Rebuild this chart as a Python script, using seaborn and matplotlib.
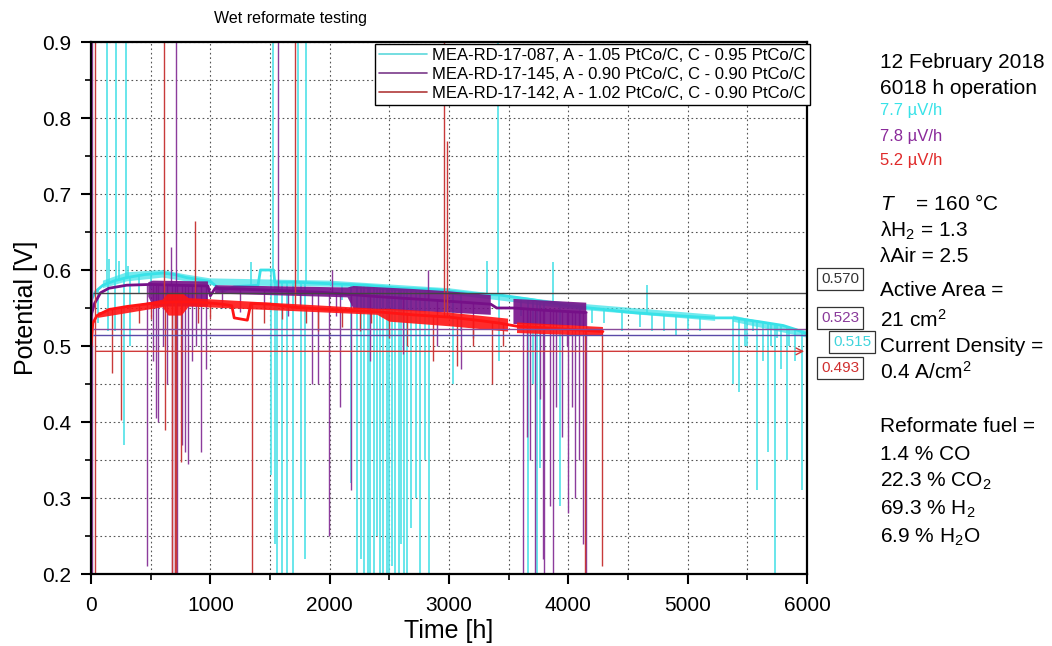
import numpy as np
import pandas as pd
import matplotlib
matplotlib.use("Agg")
import matplotlib.pyplot as plt
from matplotlib.lines import Line2D
import seaborn as sns

# ---------------- data ----------------
names = ["MEA-RD-17-087, A - 1.05 PtCo/C, C - 0.95 PtCo/C",
         "MEA-RD-17-145, A - 0.90 PtCo/C, C - 0.90 PtCo/C",
         "MEA-RD-17-142, A - 1.02 PtCo/C, C - 0.90 PtCo/C"]

# baseline of each cell voltage (h, V)
cyan_t = [0, 40, 100, 200, 300, 450, 600, 700, 800, 1000, 1100, 1200, 1400, 1420, 1530, 1540,
          1700, 2000, 2300, 2600, 2900, 3200, 3430, 3700, 4000, 4300, 4540, 4800, 5100, 5230,
          5380, 5600, 5800, 5900, 6000]
cyan_v = [0.560, 0.572, 0.580, 0.586, 0.590, 0.594, 0.596, 0.594, 0.590, 0.585, 0.572, 0.578,
          0.580, 0.600, 0.600, 0.584, 0.584, 0.582, 0.580, 0.576, 0.574, 0.569, 0.567, 0.561,
          0.553, 0.548, 0.544, 0.541, 0.538, 0.537, 0.537, 0.532, 0.527, 0.522, 0.516]

purple_t = [0, 30, 80, 150, 300, 500, 700, 980, 1000, 1040, 1400, 1900, 2400, 2900, 3350,
            3400, 3540, 3800, 4150]
purple_v = [0.540, 0.556, 0.570, 0.576, 0.580, 0.581, 0.580, 0.579, 0.566, 0.576, 0.574,
            0.571, 0.565, 0.560, 0.555, 0.550, 0.550, 0.547, 0.544]

red_t = [0, 15, 50, 150, 300, 500, 700, 900, 1100, 1180, 1200, 1310, 1340, 1500, 1700, 2000,
         2400, 2700, 3000, 3230, 3430, 3495, 3570, 3900, 4290]
red_v = [0.500, 0.530, 0.540, 0.548, 0.552, 0.556, 0.558, 0.558, 0.555, 0.553, 0.537, 0.534,
         0.556, 0.555, 0.551, 0.548, 0.545, 0.541, 0.538, 0.534, 0.530, 0.528, 0.526, 0.523,
         0.519]

# noisy envelope (fuzzy bands), NaN = no band
cyan_band_t = [100, 300, 600, 800, 1000, 2000, 3000, 4000, 5230, np.nan, 5380, 6000]
cyan_band_lo = [0.576, 0.585, 0.590, 0.585, 0.580, 0.578, 0.568, 0.549, 0.533, np.nan, 0.532, 0.511]
cyan_band_hi = [0.586, 0.597, 0.600, 0.594, 0.589, 0.586, 0.576, 0.557, 0.541, np.nan, 0.540, 0.520]

purple_band_t = [480, 520, 980, np.nan, 1040, 2150, 2200, 2700, 3000, 3350, np.nan, 3540, 4150]
purple_band_lo = [0.565, 0.552, 0.552, np.nan, 0.569, 0.564, 0.549, 0.546, 0.544, 0.541, np.nan,
                  0.529, 0.526]
purple_band_hi = [0.584, 0.586, 0.585, np.nan, 0.580, 0.577, 0.579, 0.575, 0.572, 0.567, np.nan,
                  0.562, 0.557]

red_band_t = [60, 600, 650, 760, 820, 2400, 2500, 3000, 3495, np.nan, 3570, 4290]
red_band_lo = [0.537, 0.551, 0.540, 0.540, 0.552, 0.541, 0.532, 0.526, 0.519, np.nan, 0.517, 0.513]
red_band_hi = [0.544, 0.561, 0.570, 0.570, 0.563, 0.549, 0.549, 0.544, 0.536, np.nan, 0.531, 0.525]

# spikes: time (h) and tip voltage (V)
cyan_spike_t = [134, 210, 293, 1525, 1735, 1800, 3410, 150, 235, 310, 1340, 3320, 3870, 4660,
                60, 140, 200, 277, 330, 400, 500, 1510, 1540, 1560, 1600, 1640, 1690, 1760,
                1790, 2100, 2180, 2230, 2260, 2290, 2320, 2340, 2370, 2400, 2420, 2450, 2480,
                2500, 2520, 2550, 2580, 2600, 2620, 2650, 2680, 2720, 2760, 2800, 2830, 3035,
                3100, 3420, 3600, 3660, 3700, 3740, 3765, 3800, 3930, 4100, 4200, 4300, 4450,
                4600, 4700, 4800, 4900, 5000, 5100, 5380, 5430, 5480, 5500, 5550, 5580, 5630,
                5670, 5700, 5735, 5750, 5780, 5830, 5850, 5900, 5960]
cyan_spike_v = [0.95, 0.95, 0.95, 0.95, 0.95, 0.95, 0.95, 0.615, 0.612, 0.605, 0.61, 0.612,
                0.61, 0.58,
                0.53, 0.52, 0.52, 0.37, 0.50, 0.57, 0.575, 0.33, 0.24, 0.20, 0.20, 0.20, 0.20,
                0.30, 0.22, 0.56, 0.32, 0.20, 0.22, 0.20, 0.20, 0.20, 0.20, 0.25, 0.20, 0.20,
                0.20, 0.20, 0.21, 0.20, 0.20, 0.24, 0.20, 0.20, 0.26, 0.30, 0.20, 0.35, 0.20,
                0.45, 0.52, 0.48, 0.54, 0.20, 0.45, 0.20, 0.34, 0.53, 0.29, 0.52, 0.53, 0.53,
                0.52, 0.525, 0.52, 0.52, 0.515, 0.52, 0.52, 0.45, 0.44, 0.50, 0.50, 0.52, 0.31,
                0.48, 0.36, 0.50, 0.20, 0.51, 0.47, 0.35, 0.50, 0.48, 0.31]

purple_spike_t = [10, 672, 712, 1565, 2020, 2825,
                  10, 470, 520, 545, 560, 600, 640, 680, 700, 720, 763, 788, 813, 850, 880,
                  922, 960, 1100, 1250, 1450, 1650, 1750, 1852, 1900, 1995, 2050, 2087, 2180,
                  2340, 2615, 2900, 3100, 3200, 3620, 3650, 3680, 3720, 3760, 3790, 3800,
                  3850, 3870, 3900, 3950, 3990, 4000, 4030, 4060, 4090, 4120, 4150]
purple_spike_v = [0.95, 0.63, 0.95, 0.95, 0.60, 0.60,
                  0.20, 0.21, 0.48, 0.405, 0.40, 0.50, 0.45, 0.20, 0.20, 0.20, 0.37, 0.36,
                  0.345, 0.48, 0.50, 0.36, 0.47, 0.55, 0.545, 0.55, 0.54, 0.55, 0.45, 0.45,
                  0.25, 0.54, 0.42, 0.31, 0.48, 0.49, 0.50, 0.47, 0.51, 0.20, 0.38, 0.35,
                  0.20, 0.43, 0.22, 0.20, 0.29, 0.20, 0.42, 0.38, 0.50, 0.28, 0.42, 0.30,
                  0.35, 0.24, 0.20]

red_spike_t = [30, 612, 873, 1710, 2960, 2985,
               30, 175, 250, 400, 500, 620, 680, 700, 710, 755, 900, 1000, 1350, 1450, 1600,
               1800, 1900, 2100, 2250, 2350, 2500, 2650, 2870, 3065, 3200, 3360, 3450, 4140,
               4285]
red_spike_v = [0.95, 0.95, 0.665, 0.95, 0.95, 0.77,
               0.20, 0.464, 0.403, 0.53, 0.535, 0.39, 0.20, 0.20, 0.20, 0.347, 0.53, 0.535,
               0.20, 0.53, 0.535, 0.53, 0.52, 0.525, 0.52, 0.53, 0.51, 0.50, 0.48, 0.474,
               0.50, 0.45, 0.50, 0.20, 0.21]

# reference levels shown in boxes
ref_values = [0.570, 0.523, 0.515, 0.493]
ref_labels = ["0.570", "0.523", "0.515", "0.493"]

rates = ["7.7 µV/h", "7.8 µV/h", "5.2 µV/h"]

# ---------------- style ----------------
sns.set_theme(style="white")
plt.rcParams['font.family'] = ['Liberation Sans', 'DejaVu Sans']
plt.rcParams['mathtext.fontset'] = 'custom'
plt.rcParams['mathtext.rm'] = 'Liberation Sans'
plt.rcParams['mathtext.it'] = 'Liberation Sans:italic'
for k in ['text.color', 'axes.labelcolor', 'xtick.color', 'ytick.color']:
    plt.rcParams[k] = 'black'

c_cyan, c_purple, c_red = "#38e2e8", "#761088", "#ff1414"
spike_cols = ["#4fe2e8", "#8c3c9c", "#c83a3a"]
spike_lw = [1.2, 1.0, 1.0]
legend_cols = ["#5cd8dc", "#7a3a8a", "#b03a3a"]
band_alpha = [0.7, 0.9, 0.9]

W, H = 1052, 646
fig = plt.figure(figsize=(W / 100, H / 100), dpi=100)
ax = fig.add_axes([91 / W, 1 - 574 / H, 716 / W, 532 / H])

series = [(cyan_t, cyan_v, cyan_band_t, cyan_band_lo, cyan_band_hi, cyan_spike_t, cyan_spike_v),
          (purple_t, purple_v, purple_band_t, purple_band_lo, purple_band_hi, purple_spike_t, purple_spike_v),
          (red_t, red_v, red_band_t, red_band_lo, red_band_hi, red_spike_t, red_spike_v)]
cols = [c_cyan, c_purple, c_red]

frames = []
for name, s in zip(names, series):
    frames.append(pd.DataFrame({'t': s[0], 'v': s[1], 'series': name}))
df = pd.concat(frames, ignore_index=True)

for i, (name, s) in enumerate(zip(names, series)):
    bt, bv, band_t, lo, hi, sp_t, sp_v = s
    z = 2 + i
    root = np.interp(sp_t, bt, bv)
    ax.vlines(sp_t, np.minimum(root, sp_v), np.maximum(root, sp_v),
              color=spike_cols[i], lw=spike_lw[i], zorder=z)
    ax.fill_between(band_t, lo, hi, color=cols[i], lw=0, alpha=band_alpha[i], zorder=z)
    sns.lineplot(data=df[df['series'] == name], x='t', y='v', color=cols[i], lw=2.0,
                 sort=False, estimator=None, ax=ax, zorder=z, legend=False)

# reference lines
ax.hlines(ref_values[0], 20, 6000, color="#444444", lw=1.0, zorder=6)
ax.hlines(ref_values[1], 20, 6000, color="#8a4a9a", lw=1.0, zorder=6)
ax.hlines(ref_values[2], 20, 6000, color="#5a4aa8", lw=1.0, zorder=6)
ax.annotate("", xy=(6000, ref_values[3]), xytext=(20, ref_values[3]),
            arrowprops=dict(arrowstyle="->", color="#d03a3a", lw=1.0), zorder=6)

ax.set_xlim(0, 6000)
ax.set_ylim(0.2, 0.9)
ax.set_xticks(np.arange(0, 6001, 1000))
ax.set_xticks(np.arange(500, 6000, 1000), minor=True)
ax.set_yticks(np.arange(0.2, 0.91, 0.1))
ax.set_yticks(np.arange(0.25, 0.9, 0.1), minor=True)
ax.set_yticklabels([f"{v:.1f}" for v in np.arange(0.2, 0.91, 0.1)])
ax.tick_params(which='major', direction='out', length=7, width=1.5, labelsize=15,
               left=True, bottom=True, colors='black')
ax.tick_params(axis='x', which='major', pad=9)
ax.tick_params(axis='y', which='major', pad=7)
ax.tick_params(which='minor', direction='out', length=4, width=1.2, left=True, bottom=True)
ax.grid(which='both', color='#555555', lw=0.8, ls=(0, (1.5, 2.5)), zorder=1)
for sp in ax.spines.values():
    sp.set_color('black')
    sp.set_linewidth(1.6)
    sp.set_zorder(10)

ax.set_xlabel("Time [h]", fontsize=18, labelpad=3)
ax.set_ylabel("Potential [V]", fontsize=18, labelpad=3)

handles = [Line2D([], [], color=c, lw=1.2) for c in legend_cols]
leg = ax.legend(handles, names, loc='upper right', bbox_to_anchor=(1.004, 0.996),
                borderaxespad=0, fontsize=12, handlelength=2.9, handletextpad=0.3,
                labelspacing=0.22, borderpad=0.25, frameon=True, fancybox=False,
                framealpha=1)
leg.get_frame().set_edgecolor('black')
leg.get_frame().set_linewidth(1.0)
leg.set_zorder(20)


def ftext(x, y, s, **kw):
    fig.text(x / W, 1 - y / H, s, **kw)


ftext(291, 18, "Wet reformate testing", fontsize=11.5, ha='center', va='center')

# boxed reference values
box_pos = [(840, 279), (840, 318), (852, 342), (840, 368)]
box_cols = ["#333333", "#8a3a9a", "#40d4dc", "#d03030"]
for (x, y), s, c in zip(box_pos, ref_labels, box_cols):
    ftext(x, y, s, fontsize=11, color=c, ha='center', va='center',
          bbox=dict(boxstyle='square,pad=0.25', fc='white', ec='#333333', lw=0.9))

# operating conditions
big = 15
ftext(880, 63, "12 February 2018", fontsize=big, va='center')
ftext(880, 88, "6018 h operation", fontsize=big, va='center')
for y, s, c in zip([111, 136, 161], rates, [c_cyan, "#8a2a9a", "#e02a2a"]):
    ftext(880, y, s, fontsize=12, color=c, va='center')
right_lines = [(202, r"$T$    = 160 °C"),
               (228, r"λH$_2$ = 1.3"),
               (254, "λAir = 2.5"),
               (288, "Active Area ="),
               (318, r"21 cm$^2$"),
               (344, "Current Density ="),
               (370, r"0.4 A/cm$^2$"),
               (425, "Reformate fuel ="),
               (452, "1.4 % CO"),
               (479, r"22.3 % CO$_2$"),
               (507, r"69.3 % H$_2$"),
               (535, r"6.9 % H$_2$O")]
for y, s in right_lines:
    ftext(880, y, s, fontsize=big, va='center_baseline')

fig.savefig("out.png", dpi=100)
